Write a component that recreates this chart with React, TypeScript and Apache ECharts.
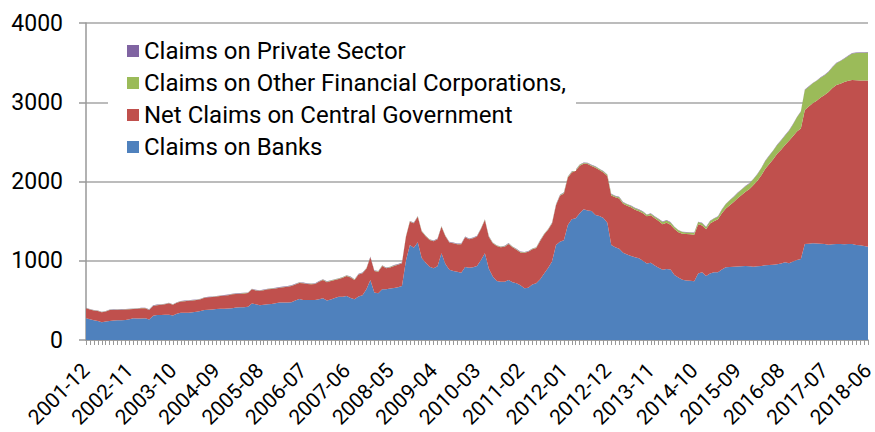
import React, { useEffect, useRef } from "react";
import * as echarts from "echarts";

// Monthly categories 2001-12 .. 2018-06 (199 months)
const startYear = 2001;
const startMonth = 12;
const monthCount = 199;
const categories: string[] = [];
for (let k = 0; k < monthCount; k++) {
  const m0 = startMonth - 1 + k;
  const y = startYear + Math.floor(m0 / 12);
  const m = (m0 % 12) + 1;
  categories.push(`${y}-${m < 10 ? "0" + m : m}`);
}

const seriesNames = [
  "Claims on Banks",
  "Net Claims on Central Government",
  "Claims on Other Financial Corporations,",
  "Claims on Private Sector",
];
const legendOrder = [
  "Claims on Private Sector",
  "Claims on Other Financial Corporations,",
  "Net Claims on Central Government",
  "Claims on Banks",
];
const colors = ["#4F81BD", "#C0504D", "#9BBB59", "#8064A2"];

const banks = [
  275, 262, 250, 240, 225, 232, 240, 245, 248, 250,
  252, 262, 273, 272, 272, 273, 258, 305, 315, 315,
  318, 320, 310, 330, 345, 345, 345, 350, 355, 365,
  378, 382, 385, 390, 393, 395, 398, 402, 410, 412,
  414, 418, 460, 450, 440, 445, 450, 455, 465, 472,
  472, 473, 475, 500, 517, 505, 504, 505, 505, 515,
  526, 498, 510, 530, 545, 547, 555, 530, 513, 550,
  565, 640, 757, 600, 589, 640, 640, 650, 655, 665,
  680, 1000, 1199, 1165, 1233, 1035, 975, 925, 905, 930,
  1094, 960, 885, 870, 862, 850, 920, 913, 918, 935,
  1010, 1094, 900, 800, 745, 736, 736, 757, 730, 715,
  690, 652, 660, 700, 715, 765, 840, 910, 990, 1200,
  1241, 1260, 1450, 1523, 1535, 1600, 1649, 1635, 1628, 1578,
  1565, 1540, 1480, 1199, 1170, 1150, 1100, 1080, 1060, 1045,
  1031, 1000, 965, 976, 940, 913, 885, 895, 890, 820,
  790, 760, 750, 749, 740, 840, 854, 808, 840, 854,
  854, 890, 917, 920, 925, 927, 930, 934, 930, 925,
  930, 935, 942, 945, 950, 955, 965, 980, 968, 990,
  1010, 1022, 1212, 1215, 1220, 1218, 1213, 1210, 1203, 1208,
  1212, 1210, 1207, 1210, 1212, 1200, 1195, 1185, 1178,
];

const centralGov = [
  125, 123, 122, 125, 125, 128, 138, 135, 133, 133,
  133, 126, 119, 123, 128, 127, 122, 125, 125, 130,
  132, 143, 135, 140, 140, 145, 150, 150, 150, 150,
  154, 156, 157, 158, 162, 165, 168, 176, 172, 173,
  174, 174, 180, 175, 180, 183, 190, 190, 185, 188,
  193, 199, 206, 200, 203, 210, 203, 200, 202, 220,
  231, 232, 235, 227, 225, 239, 253, 260, 244, 275,
  276, 260, 286, 270, 273, 294, 265, 265, 280, 283,
  287, 300, 294, 307, 323, 335, 335, 337, 340, 340,
  336, 350, 345, 350, 345, 357, 376, 357, 365, 370,
  390, 420, 400, 420, 440, 434, 442, 455, 440, 425,
  415, 448, 452, 445, 445, 485, 490, 480, 480, 500,
  579, 590, 600, 592, 600, 600, 576, 585, 567, 597,
  580, 575, 590, 625, 630, 635, 620, 615, 615, 600,
  595, 600, 595, 598, 595, 590, 575, 585, 565, 580,
  570, 580, 586, 585, 588, 620, 591, 589, 630, 646,
  669, 710, 743, 780, 815, 863, 900, 936, 975, 1030,
  1080, 1145, 1218, 1275, 1330, 1395, 1435, 1480, 1547, 1580,
  1620, 1648, 1691, 1730, 1767, 1802, 1847, 1880, 1927, 1972,
  2006, 2025, 2048, 2060, 2068, 2078, 2080, 2088, 2095,
];

const otherFinancial = [
  3, 3, 3, 3, 3, 3, 3, 3, 3, 3,
  3, 3, 3, 3, 3, 3, 3, 3, 3, 3,
  3, 3, 3, 3, 3, 3, 3, 3, 3, 3,
  3, 3, 3, 3, 3, 3, 3, 3, 3, 3,
  4, 4, 4, 4, 4, 4, 4, 4, 4, 4,
  4, 4, 4, 4, 4, 4, 4, 4, 4, 4,
  5, 5, 5, 5, 5, 5, 5, 5, 5, 5,
  5, 5, 5, 5, 5, 5, 5, 5, 5, 5,
  5, 5, 5, 5, 5, 5, 5, 5, 5, 5,
  5, 5, 5, 5, 5, 5, 5, 5, 5, 5,
  6, 6, 6, 6, 6, 6, 6, 6, 6, 6,
  6, 6, 6, 6, 6, 6, 7, 7, 7, 7,
  8, 8, 9, 9, 10, 10, 10, 11, 11, 12,
  12, 12, 14, 15, 15, 16, 16, 17, 17, 18,
  18, 19, 19, 20, 20, 21, 29, 28, 28, 25,
  24, 22, 22, 22, 22, 28, 28, 26, 30, 32,
  33, 45, 55, 63, 65, 66, 68, 70, 71, 75,
  82, 90, 100, 106, 110, 112, 118, 122, 126, 150,
  180, 210, 252, 252, 252, 250, 250, 252, 252, 262,
  274, 285, 295, 315, 335, 345, 350, 353, 355,
];

const privateSector = [
  4, 4, 4, 4, 4, 4, 4, 4, 4, 4,
  4, 4, 4, 4, 4, 4, 4, 4, 4, 4,
  4, 4, 4, 4, 4, 4, 4, 4, 4, 4,
  4, 4, 4, 4, 4, 4, 4, 4, 4, 4,
  4, 4, 4, 4, 4, 4, 4, 4, 4, 4,
  5, 5, 5, 5, 5, 5, 5, 5, 5, 5,
  5, 5, 5, 5, 5, 5, 5, 5, 5, 5,
  5, 5, 5, 5, 5, 5, 5, 5, 5, 5,
  5, 5, 5, 5, 5, 5, 5, 5, 5, 5,
  5, 5, 5, 5, 5, 5, 5, 5, 5, 5,
  5, 5, 5, 5, 5, 5, 5, 5, 5, 5,
  5, 5, 5, 5, 5, 5, 5, 5, 5, 5,
  5, 5, 5, 5, 5, 5, 5, 5, 5, 5,
  5, 5, 5, 5, 5, 5, 5, 5, 5, 5,
  5, 5, 5, 5, 5, 5, 5, 5, 5, 5,
  5, 5, 5, 5, 5, 5, 5, 5, 5, 5,
  5, 5, 5, 5, 5, 5, 5, 5, 5, 5,
  5, 5, 5, 5, 5, 5, 5, 5, 5, 5,
  5, 5, 5, 5, 5, 5, 5, 5, 5, 5,
  5, 5, 5, 5, 5, 5, 5, 5, 5,
];

const seriesData = [banks, centralGov, otherFinancial, privateSector];

const FONT = "Roboto, 'Liberation Sans', sans-serif";

export default function App() {
  const ref = useRef<HTMLDivElement>(null);
  useEffect(() => {
    if (!ref.current) return;
    const chart = echarts.init(ref.current, undefined, { renderer: "svg" });
    chart.setOption({
      animation: false,
      backgroundColor: "#ffffff",
      textStyle: { fontFamily: FONT },
      grid: {
        left: 86,
        right: 7,
        top: 23,
        bottom: 92,
        containLabel: false,
        outerBoundsMode: "none",
      },
      legend: {
        data: legendOrder,
        orient: "vertical",
        left: 108,
        top: 30,
        padding: [9, 10, 12, 19],
        itemGap: 8,
        itemWidth: 12,
        itemHeight: 12,
        icon: "rect",
        backgroundColor: "#ffffff",
        z: 10,
        textStyle: { fontSize: 24, lineHeight: 24, color: "#000000", fontFamily: FONT },
      },
      xAxis: {
        type: "category",
        data: categories,
        boundaryGap: false,
        axisLine: { show: true, lineStyle: { color: "#999999", width: 1.5 } },
        axisTick: { show: true, interval: 0, length: 5, lineStyle: { color: "#999999", width: 1 } },
        axisLabel: {
          interval: 10,
          rotate: 45,
          margin: 27,
          fontSize: 21,
          color: "#000000",
          fontFamily: FONT,
        },
        splitLine: { show: false },
      },
      yAxis: {
        type: "value",
        min: 0,
        max: 4000,
        interval: 1000,
        axisLine: { show: true, lineStyle: { color: "#999999", width: 1.5 } },
        axisTick: { show: true, length: 7, lineStyle: { color: "#999999", width: 1.5 } },
        axisLabel: {
          margin: 23,
          fontSize: 23,
          color: "#000000",
          fontFamily: FONT,
          formatter: (v: number) => String(v),
        },
        splitLine: { show: true, lineStyle: { color: "#a6a6a6", width: 1.5 } },
      },
      series: seriesNames.map((name, k) => ({
        name,
        type: "line",
        stack: "total",
        data: seriesData[k],
        symbol: "none",
        showSymbol: false,
        lineStyle: { width: 0 },
        areaStyle: { color: colors[k], opacity: 1 },
        itemStyle: { color: colors[k] },
        z: 2,
      })),
    });
    return () => chart.dispose();
  }, []);
  return (
    <div
      ref={ref}
      style={{ position: "fixed", left: 0, top: 0, width: 875, height: 432 }}
    />
  );
}
